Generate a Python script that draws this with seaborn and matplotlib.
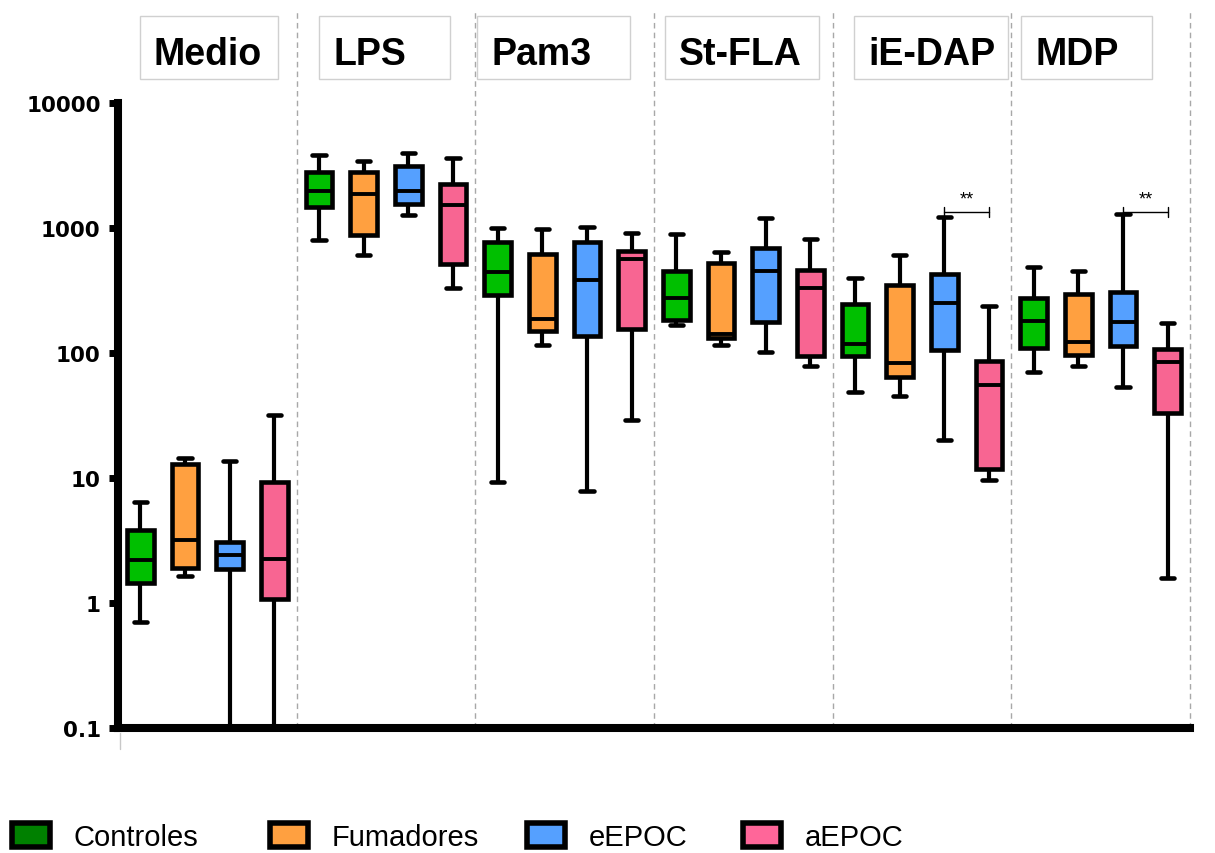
import numpy as np
import pandas as pd
import matplotlib
matplotlib.use("Agg")
import matplotlib.pyplot as plt
from matplotlib.patches import Rectangle, Patch
from matplotlib.lines import Line2D
from matplotlib.ticker import NullLocator
import seaborn as sns

# ---------------------------------------------------------------- data
stimuli = ["Medio", "LPS", "Pam3", "St-FLA", "iE-DAP", "MDP"]
groups = ["Controles", "Fumadores", "eEPOC", "aEPOC"]

# five-number summaries (min, Q1, median, Q3, max), one row per group
medio = [[0.70, 1.45, 2.2, 3.84, 6.4],
         [1.63, 1.9, 3.2, 13.0, 14.5],
         [0.05, 1.87, 2.44, 3.05, 13.7],
         [0.05, 1.07, 2.25, 9.3, 32.0]]
lps = [[805, 1464, 1977, 2790, 3837],
       [608, 879, 1862, 2790, 3436],
       [1270, 1556, 1977, 3118, 3981],
       [329, 515, 1518, 2249, 3653]]
pam3 = [[9.3, 291, 448, 769, 1000],
        [116, 150, 188, 619, 982],
        [7.9, 136, 384, 777, 1024],
        [29.3, 156, 565, 651, 918]]
st_fla = [[169, 183, 275, 456, 891],
          [116, 132, 142, 522, 639],
          [102, 178, 456, 688, 1196],
          [78, 95, 329, 464, 812]]
ie_dap = [[49, 94, 119, 246, 398],
          [45.6, 64.6, 83, 350, 612],
          [20.3, 106, 253, 426, 1217],
          [9.6, 11.9, 55, 87, 239]]
mdp = [[70.5, 109, 180, 277, 484],
       [78, 96, 122, 296, 456],
       [53, 114, 178, 308, 1294],
       [1.58, 33, 84, 107, 175]]

summaries = [medio, lps, pam3, st_fla, ie_dap, mdp]

# significance between eEPOC and aEPOC
sig_stimuli = ["iE-DAP", "MDP"]
sig_labels = ["**", "**"]
sig_level = [1340, 1340]

yticks = [0.1, 1, 10, 100, 1000, 10000]
ytick_labels = ["0.1", "1", "10", "100", "1000", "10000"]

# ---------------------------------------------------------------- style
box_colors = {"Controles": "#00BF00", "Fumadores": "#FFA040",
              "eEPOC": "#55A0FF", "aEPOC": "#F86592"}
legend_colors = {"Controles": "#008000", "Fumadores": "#FFA040",
                 "eEPOC": "#55A0FF", "aEPOC": "#FF6699"}

sns.set_style("white")
plt.rcParams["font.family"] = ["Liberation Sans", "DejaVu Sans"]
plt.rcParams["text.color"] = "black"
plt.rcParams["ytick.color"] = "black"

W, H = 1215, 854
fig = plt.figure(figsize=(W / 100, H / 100), dpi=100)
ax = fig.add_axes([118 / W, 125 / H, (1190 - 118) / W, 625 / H])

rows = []
for stim, summ in zip(stimuli, summaries):
    for grp, vals in zip(groups, summ):
        for v in vals:
            rows.append({"Estimulo": stim, "Grupo": grp, "valor": v})
df = pd.DataFrame(rows)

sns.boxplot(data=df, x="Estimulo", y="valor", hue="Grupo",
            order=stimuli, hue_order=groups, palette=box_colors,
            saturation=1, whis=(0, 100), width=1.0, gap=0.4,
            linewidth=3.3, linecolor="black", showfliers=False,
            log_scale=True, legend=False, ax=ax,
            whiskerprops={"linewidth": 3.0}, capprops={"linewidth": 3.3},
            medianprops={"linewidth": 2.8})

ax.set_xlim(-0.5, 5.5)
ax.set_ylim(0.1, 10000)
ax.set_yticks(yticks)
ax.set_yticklabels(ytick_labels)
ax.yaxis.set_minor_locator(NullLocator())
ax.set_xticks([])
ax.set_xlabel("")
ax.set_ylabel("")
for lab in ax.get_yticklabels():
    lab.set_family("DejaVu Sans")
    lab.set_fontweight("bold")
    lab.set_fontsize(15.5)
    lab.set_color("black")
ax.tick_params(axis="y", length=6.5, width=5, pad=6, color="black", left=True)

for side in ["top", "right"]:
    ax.spines[side].set_visible(False)
for side in ["left", "bottom"]:
    ax.spines[side].set_linewidth(5.8)
    ax.spines[side].set_color("black")
    ax.spines[side].set_capstyle("projecting")

# dashed separators between stimuli
for xs in np.arange(0.5, len(stimuli), 1.0):
    ax.axvline(xs, ymin=0, ymax=1 + 92 / 625, clip_on=False, color="#A8A8A8",
               lw=1, ls=(0, (4, 3)), zorder=0)

fig.add_artist(Line2D([120 / W, 120 / W], [1 - 734 / H, 1 - 750 / H],
                      color="#C8C8C8", lw=1))

# significance brackets
offsets = {g: -0.375 + 0.25 * k for k, g in enumerate(groups)}
for stim, lab, lev in zip(sig_stimuli, sig_labels, sig_level):
    i = stimuli.index(stim)
    x0 = i + offsets["eEPOC"]
    x1 = i + offsets["aEPOC"]
    ax.plot([x0, x1], [lev, lev], color="black", lw=1, zorder=5)
    for xe in (x0, x1):
        ax.plot([xe, xe], [lev / 1.1, lev * 1.1], color="black", lw=1, zorder=5)
    ax.text((x0 + x1) / 2, lev * 1.27, lab, ha="center", va="center",
            fontsize=13, family="Liberation Sans")

# stimulus headers in framed boxes
header_left = [140, 319, 477, 665, 854, 1021]
header_right = [278, 450, 630, 819, 1008, 1152]
for name, xl, xr in zip(stimuli, header_left, header_right):
    fig.add_artist(Rectangle((xl / W, 1 - 80 / H), (xr - xl) / W, 63 / H,
                             transform=fig.transFigure, fill=False,
                             ec="#D0D0D0", lw=1))
    fig.text((xl + 14) / W, 1 - 65 / H, name, fontsize=27, fontweight="bold",
             va="baseline", ha="left", color="black")

# legend entries along the bottom
legend_x = [12, 270, 527, 743]
for grp, lx in zip(groups, legend_x):
    h = Patch(facecolor=legend_colors[grp], edgecolor="black", linewidth=4)
    leg = fig.legend(handles=[h], labels=[grp], loc="center left",
                     bbox_to_anchor=(lx / W, 1 - 838 / H), frameon=False,
                     fontsize=21, borderpad=0, borderaxespad=0,
                     handlelength=1.3, handleheight=0.85, handletextpad=0.8)
    for t in leg.get_texts():
        t.set_color("black")

fig.savefig("out.png", dpi=100)
